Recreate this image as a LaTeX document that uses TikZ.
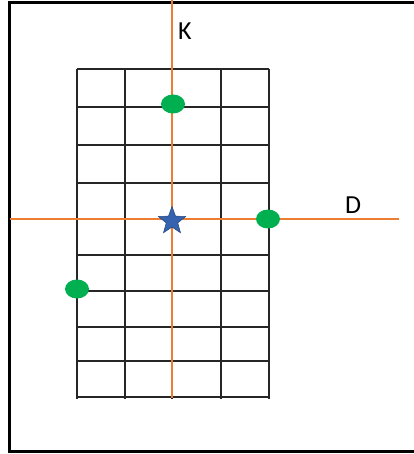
\documentclass[tikz,border=0pt]{standalone}
\usepackage{fontspec}
\setmainfont{Carlito}
\usetikzlibrary{shapes.geometric}
\definecolor{axisorange}{HTML}{ED7D31}
\definecolor{pointgreen}{HTML}{00B050}
\definecolor{starblue}{HTML}{3563B0}
\tikzset{
 grid line/.style={line width=2pt,draw=black!85},
 axis line/.style={line width=2.9pt,draw=axisorange},
 grid point/.style={ellipse,fill=pointgreen,minimum width=24pt,minimum height=19pt,inner sep=0pt},
 origin star/.style={star,star points=5,star point ratio=2.4,fill=starblue,
   draw=starblue!70!black,line width=.5pt,minimum size=29pt,inner sep=0pt},
 axis label/.style={font=\fontsize{26}{30}\selectfont,inner sep=0pt}
}
\begin{document}
\begin{tikzpicture}[x=1pt,y=-1pt]
\useasboundingbox (0,0) rectangle (413,454);
\draw[line width=3pt] (414,2.5)--(9,2.5)--(9,451)--(414,451);
\foreach \y in {69,107,145,183,219,255,291,327,361,397}
  \draw[grid line] (77,\y)--(269,\y);
\foreach \x in {77,125,172,221,269}
  \draw[grid line] (\x,69)--(\x,399);
\coordinate (k top) at (172,0);
\coordinate (k end) at (172,398);
\coordinate (d start) at (10,219);
\coordinate (d end) at (399,219);
\draw[axis line] (k top)--(k end);
\draw[axis line] (d start)--(d end);
\node[origin star] (origin) at (172,221) {};
\node[grid point] (p1) at (173,104) {};
\node[grid point] (p2) at (268,219) {};
\node[grid point] (p3) at (77,289) {};
\node[axis label] (k) at (185,31) {K};
\node[axis label] (d) at (353,205) {D};
\end{tikzpicture}
\end{document}
